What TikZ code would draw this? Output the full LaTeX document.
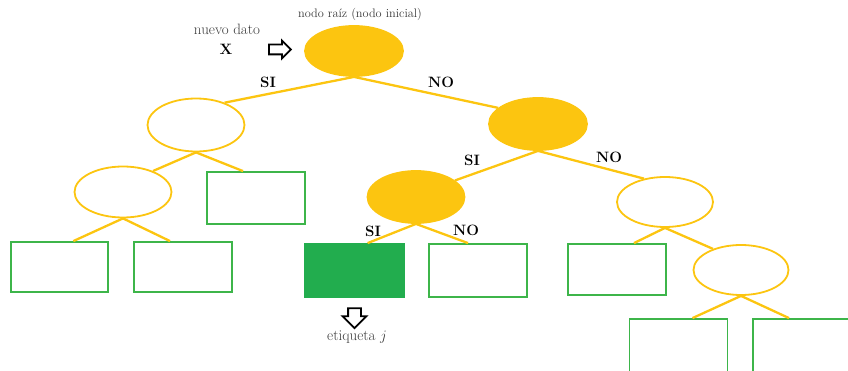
\documentclass[tikz,border=0pt]{standalone}
\usetikzlibrary{shapes.geometric,shapes.arrows,calc}
\definecolor{amber}{HTML}{FCC510}
\definecolor{leafgreen}{HTML}{3DB54A}
\definecolor{fillgreen}{HTML}{22AD4E}
\definecolor{txtgray}{HTML}{3A3A3A}
\tikzset{
  inner/.style={ellipse, draw=amber, line width=1.8pt, minimum width=96pt, minimum height=50pt, inner sep=0pt},
  innerfill/.style={inner, fill=amber},
  leaf/.style={rectangle, draw=leafgreen, line width=1.8pt, minimum width=96pt, minimum height=50pt, inner sep=0pt},
  edge/.style={draw=amber, line width=2.3pt},
  lbl/.style={font=\fontsize{15}{17}\selectfont\bfseries, text=black, inner sep=0pt},
  plain/.style={font=\fontsize{15}{17}\selectfont, text=txtgray, inner sep=0pt},
  hollowarrow/.style={single arrow, draw=black, fill=white, line width=1.8pt, single arrow head indent=0pt}
}
\begin{document}
\begin{tikzpicture}[x=1pt,y=-1pt]
\useasboundingbox (0,0) rectangle (848,371);
% inner nodes
\node[innerfill, minimum width=98pt, minimum height=50pt] (root) at (354,51) {};
\node[inner, minimum width=97pt, minimum height=53pt] (L1) at (196,125) {};
\node[innerfill, minimum width=98pt, minimum height=52pt] (Rc) at (538,124) {};
\node[inner, minimum width=97pt, minimum height=51pt] (L2) at (123,192) {};
\node[innerfill, minimum width=97pt, minimum height=52pt] (M) at (416,197) {};
\node[inner, minimum width=96pt, minimum height=50pt] (RR1) at (665,202) {};
\node[inner, minimum width=95pt, minimum height=50pt] (RR2) at (741,270) {};
% leaves
\node[leaf, minimum width=98pt, minimum height=52pt] (R1) at (256,198) {};
\node[leaf, minimum width=97pt, minimum height=50pt] (LL) at (59.5,267) {};
\node[leaf, minimum width=98pt, minimum height=50pt] (LR) at (183,267) {};
\node[leaf, fill=fillgreen, draw=fillgreen, minimum width=99pt, minimum height=53pt] (G) at (354.5,270.5) {};
\node[leaf, minimum width=98pt, minimum height=53pt] (MR) at (478,270.5) {};
\node[leaf, minimum width=98pt, minimum height=51pt] (RB1) at (617,269.5) {};
\node[leaf, minimum width=98pt, minimum height=56pt] (BL) at (678.5,347) {};
\node[leaf, minimum width=98pt, minimum height=56pt] (BR) at (802,347) {};
% edges
\draw[edge] (root.south) -- (L1.38);
\draw[edge] (root.south) -- (Rc.158);
\draw[edge] (L1.south) -- (L2.35);
\draw[edge] (L1.south) -- ($(R1.north west)!0.37!(R1.north east)$);
\draw[edge] (L2.south) -- ($(LL.north west)!0.64!(LL.north east)$);
\draw[edge] (L2.south) -- ($(LR.north west)!0.37!(LR.north east)$);
\draw[edge] (Rc.south) -- (M.23);
\draw[edge] (Rc.south) -- (RR1.132);
\draw[edge] (M.south) -- ($(G.north west)!0.63!(G.north east)$);
\draw[edge] (M.south) -- ($(MR.north west)!0.40!(MR.north east)$);
\draw[edge] (RR1.south) -- ($(RB1.north west)!0.67!(RB1.north east)$);
\draw[edge] (RR1.south) -- (RR2.143);
\draw[edge] (RR2.south) -- ($(BL.north west)!0.64!(BL.north east)$);
\draw[edge] (RR2.south) -- ($(BR.north west)!0.37!(BR.north east)$);
% edge labels
\node[lbl] (si1) at (268,82) {SI};
\node[lbl] (no1) at (441,82) {NO};
\node[lbl] (si2) at (472,160) {SI};
\node[lbl] (no2) at (609,157) {NO};
\node[lbl] (si3) at (373,231) {SI};
\node[lbl] (no3) at (466,230) {NO};
% texts
\node[font=\fontsize{12.3}{14}\selectfont, text=txtgray, inner sep=0pt] (rootlbl) at (360,14) {nodo raíz (nodo inicial)};
\node[plain] (nuevo) at (227,29) {nuevo dato};
\node[font=\fontsize{15}{17}\selectfont\bfseries, text=black, inner sep=0pt] (xdat) at (226,49) {X};
\node[hollowarrow, minimum height=22pt, minimum width=16pt, inner sep=4pt, single arrow head extend=4pt] (rarrow) at (277.5,49.5) {};
\node[hollowarrow, shape border rotate=270, minimum height=20pt, minimum width=23pt, inner sep=5.5pt, single arrow head extend=5.5pt] (darrow) at (354.5,315) {};
\node[plain] (etiq) at (357,337) {etiqueta $j$};
\end{tikzpicture}
\end{document}
